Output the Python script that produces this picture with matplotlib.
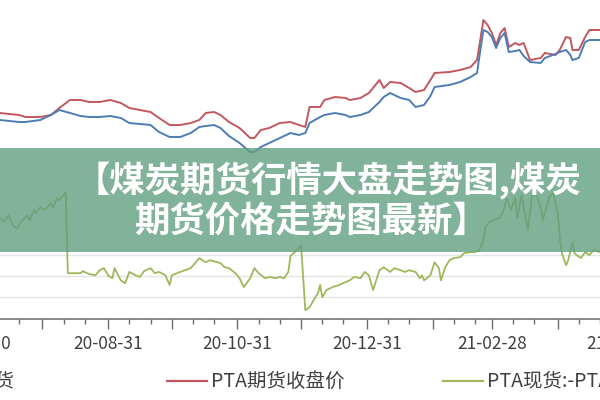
import matplotlib

matplotlib.use("Agg")
import matplotlib.dates as mdates
import matplotlib.pyplot as plt
import pandas as pd
from matplotlib.lines import Line2D
from matplotlib.patches import Rectangle
from matplotlib.ticker import FixedLocator, FuncFormatter

plt.rcParams["font.family"] = ["Noto Sans CJK SC", "DejaVu Sans"]

RED = "#c2575f"
BLUE = "#4d7db4"
GREEN = "#9fb85c"
AXIS = "#6b6b6b"
TXT = "#404040"

# PTA futures close / spot (yuan per tonne), same trading dates
price_dates = [
    "2020-07-11", "2020-07-20", "2020-07-23", "2020-07-30", "2020-08-04", "2020-08-08", "2020-08-13",
    "2020-08-18", "2020-08-22", "2020-08-27", "2020-09-01", "2020-09-06", "2020-09-10", "2020-09-15",
    "2020-09-20", "2020-09-24", "2020-09-29", "2020-10-04", "2020-10-09", "2020-10-13", "2020-10-16",
    "2020-10-20", "2020-10-23", "2020-10-27", "2020-11-01", "2020-11-06", "2020-11-08", "2020-11-11",
    "2020-11-15", "2020-11-20", "2020-11-25", "2020-11-29", "2020-12-02", "2020-12-04", "2020-12-09",
    "2020-12-11", "2020-12-16", "2020-12-21", "2020-12-23", "2020-12-28", "2021-01-01", "2021-01-06",
    "2021-01-08", "2021-01-11", "2021-01-16", "2021-01-20", "2021-01-23", "2021-01-27", "2021-01-30",
    "2021-02-01", "2021-02-08", "2021-02-13", "2021-02-18", "2021-02-21", "2021-02-22", "2021-02-24",
    "2021-02-26", "2021-02-28", "2021-03-02", "2021-03-04", "2021-03-06", "2021-03-08", "2021-03-11",
    "2021-03-13", "2021-03-15", "2021-03-18", "2021-03-23", "2021-03-25", "2021-03-30", "2021-04-01",
    "2021-04-04", "2021-04-06", "2021-04-07", "2021-04-10", "2021-04-13", "2021-04-15", "2021-04-20",
]
futures_close = [
    3644, 3620, 3596, 3596, 3620, 3704, 3800, 3800, 3776, 3776,
    3800, 3764, 3704, 3680, 3656, 3584, 3500, 3500, 3524, 3560,
    3644, 3656, 3620, 3536, 3464, 3344, 3344, 3440, 3464, 3524,
    3536, 3500, 3476, 3716, 3716, 3800, 3836, 3824, 3800, 3824,
    3884, 4040, 3944, 4016, 4004, 3944, 3896, 3920, 4040, 4124,
    4136, 4160, 4196, 4280, 4436, 4760, 4700, 4604, 4460, 4604,
    4664, 4436, 4484, 4460, 4484, 4280, 4304, 4364, 4340, 4400,
    4556, 4544, 4400, 4400, 4556, 4640, 4640,
]
spot_price = [
    3560, 3536, 3536, 3560, 3620, 3680, 3644, 3608, 3596, 3596,
    3608, 3584, 3524, 3512, 3500, 3416, 3356, 3356, 3404, 3476,
    3488, 3500, 3464, 3368, 3284, 3176, 3176, 3236, 3284, 3344,
    3404, 3380, 3404, 3524, 3596, 3620, 3644, 3620, 3596, 3620,
    3656, 3776, 3836, 3884, 3824, 3800, 3716, 3740, 3848, 3956,
    3980, 4016, 4076, 4124, 4304, 4640, 4616, 4556, 4424, 4544,
    4604, 4376, 4388, 4400, 4328, 4256, 4244, 4304, 4352, 4376,
    4400, 4340, 4280, 4304, 4496, 4520, 4520,
]

# basis series (right axis)
basis_dates = [
    "2020-07-11", "2020-07-13", "2020-07-15", "2020-07-17", "2020-07-19", "2020-07-21", "2020-07-24",
    "2020-07-25", "2020-07-27", "2020-07-28", "2020-07-30", "2020-08-01", "2020-08-04", "2020-08-05",
    "2020-08-07", "2020-08-08", "2020-08-10", "2020-08-11", "2020-08-12", "2020-08-13", "2020-08-18",
    "2020-08-19", "2020-08-22", "2020-08-25", "2020-08-27", "2020-08-29", "2020-08-31", "2020-09-02",
    "2020-09-03", "2020-09-06", "2020-09-08", "2020-09-10", "2020-09-13", "2020-09-15", "2020-09-17",
    "2020-09-20", "2020-09-22", "2020-09-24", "2020-09-27", "2020-09-29", "2020-09-30", "2020-10-04",
    "2020-10-09", "2020-10-13", "2020-10-16", "2020-10-18", "2020-10-23", "2020-10-25", "2020-10-27",
    "2020-10-30", "2020-11-01", "2020-11-03", "2020-11-06", "2020-11-08", "2020-11-10", "2020-11-13",
    "2020-11-15", "2020-11-18", "2020-11-20", "2020-11-22", "2020-11-24", "2020-11-25", "2020-11-27",
    "2020-11-28", "2020-11-30", "2020-12-02", "2020-12-04", "2020-12-06", "2020-12-08", "2020-12-09",
    "2020-12-10", "2020-12-12", "2020-12-15", "2020-12-18", "2020-12-21", "2020-12-23", "2020-12-25",
    "2020-12-28", "2020-12-30", "2021-01-01", "2021-01-03", "2021-01-04", "2021-01-06", "2021-01-08",
    "2021-01-11", "2021-01-13", "2021-01-16", "2021-01-18", "2021-01-20", "2021-01-23", "2021-01-25",
    "2021-01-26", "2021-01-27", "2021-01-30", "2021-02-01", "2021-02-03", "2021-02-04", "2021-02-06",
    "2021-02-08", "2021-02-10", "2021-02-13", "2021-02-15", "2021-02-18", "2021-02-20", "2021-02-22",
    "2021-02-24", "2021-02-25", "2021-02-27", "2021-03-04", "2021-03-06", "2021-03-07", "2021-03-09",
    "2021-03-11", "2021-03-12", "2021-03-14", "2021-03-15", "2021-03-17", "2021-03-19", "2021-03-21",
    "2021-03-23", "2021-03-24", "2021-03-26", "2021-03-27", "2021-03-29", "2021-03-31", "2021-04-01",
    "2021-04-02", "2021-04-04", "2021-04-05", "2021-04-07", "2021-04-08", "2021-04-09", "2021-04-11",
    "2021-04-13", "2021-04-15", "2021-04-17", "2021-04-20",
]
basis = [
    -12, -21, -5, -29, -36, -21, -5, -17, 7, 0, 14, 7, 24, 14, 36, 31, 43, 48,
    -143, -143, -143, -138, -145, -148, -136, -131, -148, -155, -131, -160, -167, -140, -148, -152,
    -138, -131, -143, -140, -148, -171, -148, -140, -131, -107, -117, -112, -119, -129, -131,
    -143, -155, -176, -155, -131, -143, -155, -152, -155, -152, -155, -140, -102, -93, -88, -76,
    -231, -224, -207, -190, -171, -200, -183, -176, -171, -164, -160, -152, -155, -140,
    -148, -183, -167, -136, -129, -140, -131, -136, -140, -136, -140, -155, -148, -160, -148,
    -117, -131, -160, -129, -112, -107, -105, -95, -93, -93, -88, -64, -33, -21,
    -10, 14, 36, 7, 36, -10, 43, 14, -40, 43, 43, 14, -17, 19, 38, 48, 0,
    -57, -95, -124, -112, -71, -95, -100, -107, -93, -100, -88, -93,
]

legend_labels = ["PTA现货", "PTA期货收盘价", "PTA现货:-PTA期货收盘价"]
legend_colors = [BLUE, RED, GREEN]
title_lines = ["【煤炭期货行情大盘走势图,煤炭", "期货价格走势图最新】"]

price_dates = pd.to_datetime(price_dates)
basis_dates = pd.to_datetime(basis_dates)

fig = plt.figure(figsize=(6, 4), dpi=100)
# the screenshot is a crop: the plot runs past both edges of the picture
ax = fig.add_axes([-0.1, 0.2025, 1.2, 0.7975])
ax2 = ax.twinx()

ax.plot(price_dates, futures_close, color=RED, lw=1.4)
ax.plot(price_dates, spot_price, color=BLUE, lw=1.4)
ax2.plot(basis_dates, basis, color=GREEN, lw=1.3)

span = (price_dates[-1] - price_dates[0]) / 600 * 60
ax.set_xlim(price_dates[0] - span, price_dates[-1] + span)
ax.set_ylim(1172, 5000)
ax2.set_ylim(-252, 507)

month_ends = pd.date_range("2020-06-30", "2021-04-30", freq="ME")
ax.xaxis.set_major_locator(FixedLocator(mdates.date2num(month_ends)))
ax.xaxis.set_major_formatter(FuncFormatter(
    lambda v, _: mdates.num2date(v).strftime("%y-%m-%d") if mdates.num2date(v).month % 2 == 0 else ""))
ax.xaxis.set_minor_locator(mdates.DayLocator(bymonthday=[10, 20]))
ax.tick_params(axis="x", which="major", length=7.5, width=1.0, color=AXIS,
               labelsize=12.5, labelcolor=TXT, pad=4)
ax.tick_params(axis="x", which="minor", length=3.8, width=1.0, color=AXIS)
ax.set_yticks([])

ax2.set_yticks([-200, -150, -100])
ax2.tick_params(axis="y", length=0, labelright=False)
ax2.grid(axis="y", color="#e4e4e4", lw=1.0)

for a in (ax, ax2):
    for s in ("top", "left", "right"):
        a.spines[s].set_visible(False)
ax2.spines["bottom"].set_visible(False)
ax.spines["bottom"].set_color(AXIS)
ax.spines["bottom"].set_linewidth(1.1)

# legend row under the axis (first entry sits mostly outside the crop)
ly = 1 - 381 / 400
for (x0, x1), lab, col in zip([(-105 / 600, -65 / 600), (167 / 600, 207 / 600), (443 / 600, 483 / 600)],
                              legend_labels, legend_colors):
    fig.add_artist(Line2D([x0, x1], [ly, ly], transform=fig.transFigure, color=col, lw=1.6))
    fig.text(x1 + 4 / 600, ly, lab, ha="left", va="center", fontsize=14, color=TXT)

# translucent headline banner across the chart
fig.add_artist(Rectangle((0, 1 - 252 / 400), 1, 104 / 400, transform=fig.transFigure,
                         facecolor="#629f81", alpha=0.8, edgecolor="none", zorder=5))
fig.text(0.547, 1 - 181 / 400, title_lines[0], ha="center", va="center", fontsize=25.5,
         fontweight="bold", color="white", zorder=6)
fig.text(0.518, 1 - 221 / 400, title_lines[1], ha="center", va="center", fontsize=25.5,
         fontweight="bold", color="white", zorder=6)

fig.savefig("out.png", dpi=100)
